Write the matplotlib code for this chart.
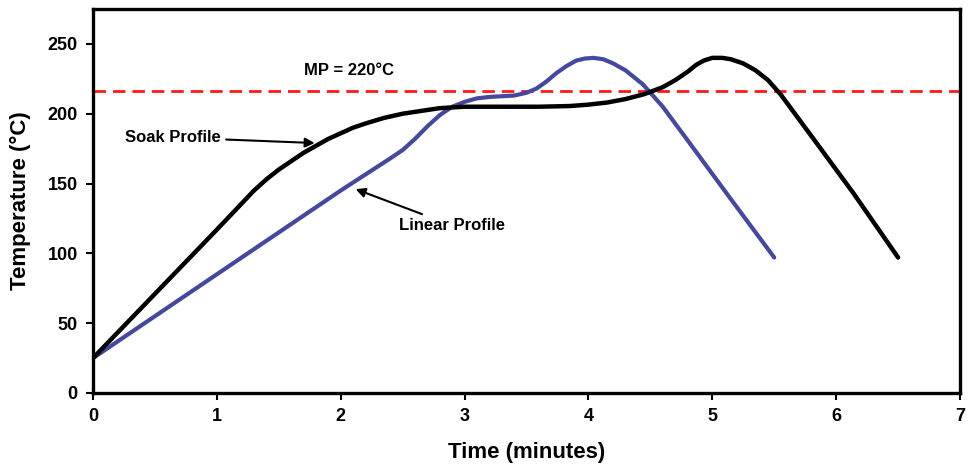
import matplotlib.pyplot as plt
from matplotlib import font_manager

# soak profile (black)
soak_t = [0.0, 1.0, 1.3, 1.4, 1.5, 1.6, 1.7, 1.8, 1.9, 2.0, 2.1, 2.2, 2.35, 2.5, 2.65,
          2.8, 3.0, 3.3, 3.6, 3.85, 4.0, 4.15, 4.3, 4.45, 4.6, 4.7, 4.8, 4.87, 4.93,
          5.0, 5.08, 5.15, 5.25, 5.35, 5.45, 5.55, 5.65, 5.8, 6.14, 6.5]
soak_temp = [25, 117, 145, 153, 160, 166, 172, 177, 182, 186, 190, 193, 197, 200, 202,
             204, 205, 205, 205, 205.5, 206.5, 208, 210.5, 214, 219, 224, 230, 235, 238,
             240, 240, 239, 236, 231, 224, 214, 202, 184, 143, 97]

# linear profile (blue)
lin_t = [0.0, 2.0, 2.4, 2.5, 2.6, 2.7, 2.8, 2.9, 3.0, 3.1, 3.2, 3.3, 3.4, 3.5, 3.58,
         3.66, 3.74, 3.82, 3.9, 3.97, 4.04, 4.12, 4.2, 4.3, 4.44, 4.6, 4.8, 5.14, 5.5]
lin_temp = [25, 145, 168, 174, 182, 191, 199, 205, 208.5, 211, 212, 212.5, 213, 215, 218,
            223, 229, 234, 238, 239.5, 240, 239, 236, 231, 221, 205, 181, 140, 97]

mp_level = 216
x_ticks = [0, 1, 2, 3, 4, 5, 6, 7]
y_ticks = [0, 50, 100, 150, 200, 250]

names = {f.name for f in font_manager.fontManager.ttflist}
fam = "Liberation Sans Narrow" if "Liberation Sans Narrow" in names else "Liberation Sans"
plt.rcParams["font.family"] = [fam, "DejaVu Sans"]
plt.rcParams["font.weight"] = "bold"

fig = plt.figure(figsize=(9.71, 4.68), dpi=100)
ax = fig.add_axes([0.0958, 0.1603, 0.8929, 0.8205])

ax.axhline(mp_level, color="#ff1a1a", lw=2.0, ls=(0, (4.5, 2.5)), zorder=1)
ax.plot(lin_t, lin_temp, color="#46489c", lw=3.0, solid_joinstyle="round",
        solid_capstyle="round", zorder=2)
ax.plot(soak_t, soak_temp, color="black", lw=3.2, solid_joinstyle="round",
        solid_capstyle="round", zorder=3)

ax.text(2.07, 231, "MP = 220°C", ha="center", va="center", fontsize=12, fontweight="bold")

arrow = dict(arrowstyle="-|>", color="black", lw=1.5, mutation_scale=14, shrinkA=2, shrinkB=0)
ax.annotate("Soak Profile", xy=(1.79, 179), xytext=(1.03, 183), ha="right", va="center",
            fontsize=12, fontweight="bold", arrowprops=arrow)
ax.annotate("Linear Profile", xy=(2.12, 146), xytext=(2.47, 120), ha="left", va="center",
            fontsize=12, fontweight="bold", arrowprops=arrow)

ax.set_xlim(0, 7)
ax.set_ylim(0, 275)
ax.set_xticks(x_ticks)
ax.set_yticks(y_ticks)
ax.tick_params(direction="out", length=5, width=1.5, labelsize=13, pad=6)
for lab in ax.get_xticklabels() + ax.get_yticklabels():
    lab.set_fontweight("bold")
for s in ax.spines.values():
    s.set_linewidth(2.4)

ax.set_xlabel("Time (minutes)", fontsize=16, fontweight="bold", labelpad=12)
ax.set_ylabel("Temperature (°C)", fontsize=16, fontweight="bold", labelpad=12)

fig.savefig("out.png", dpi=100)
